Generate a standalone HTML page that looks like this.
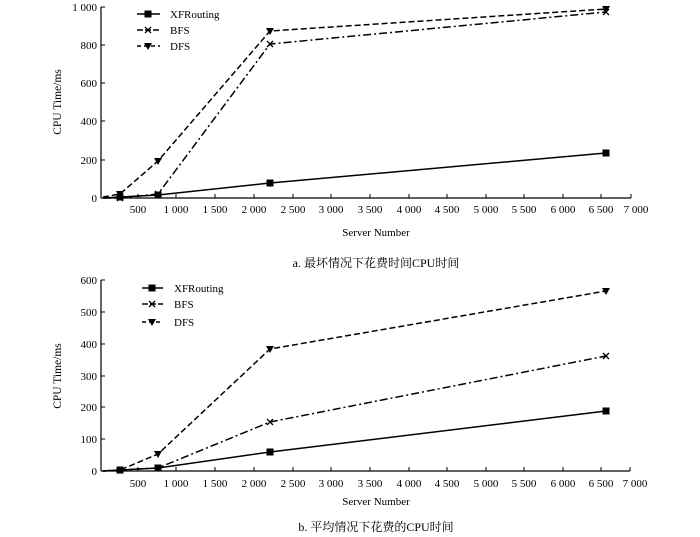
<!DOCTYPE html>
<html><head><meta charset="utf-8"><style>
body{margin:0;background:#fff;}
svg{display:block;font-family:"Liberation Serif","Noto Serif CJK SC",serif;}
</style></head><body>
<svg width="700" height="537" viewBox="0 0 700 537" xmlns="http://www.w3.org/2000/svg">
<defs>
<g id="sq"><rect x="-3.5" y="-3.5" width="7" height="7" fill="#000"/></g>
<g id="xx"><path d="M-3,-3L3,3M-3,3L3,-3" stroke="#000" stroke-width="1.3"/></g>
<g id="tr"><path d="M-4,-3L4,-3L0,4Z" fill="#000"/></g>
</defs>
<g font-size="11" fill="#000">
<!-- TOP CHART -->
<line x1="101" y1="7" x2="101" y2="198" stroke="#000" stroke-width="1.2"/>
<line x1="101" y1="198" x2="631" y2="198" stroke="#000" stroke-width="1.2"/>
<g stroke="#000" stroke-width="1">
<line x1="101" y1="7" x2="105" y2="7"/><line x1="101" y1="45" x2="105" y2="45"/><line x1="101" y1="83" x2="105" y2="83"/><line x1="101" y1="121" x2="105" y2="121"/><line x1="101" y1="160" x2="105" y2="160"/>
<line x1="138" y1="198" x2="138" y2="194"/><line x1="176" y1="198" x2="176" y2="194"/><line x1="215" y1="198" x2="215" y2="194"/><line x1="254" y1="198" x2="254" y2="194"/><line x1="293" y1="198" x2="293" y2="194"/><line x1="331" y1="198" x2="331" y2="194"/><line x1="370" y1="198" x2="370" y2="194"/><line x1="409" y1="198" x2="409" y2="194"/><line x1="447" y1="198" x2="447" y2="194"/><line x1="486" y1="198" x2="486" y2="194"/><line x1="524" y1="198" x2="524" y2="194"/><line x1="563" y1="198" x2="563" y2="194"/><line x1="601" y1="198" x2="601" y2="194"/><line x1="631" y1="198" x2="631" y2="194"/>
</g>
<g text-anchor="end">
<text x="97" y="11">1 000</text><text x="97" y="49">800</text><text x="97" y="87">600</text><text x="97" y="125">400</text><text x="97" y="164">200</text><text x="97" y="202">0</text>
</g>
<g text-anchor="middle">
<text x="138" y="213">500</text><text x="176" y="213">1 000</text><text x="215" y="213">1 500</text><text x="254" y="213">2 000</text><text x="293" y="213">2 500</text><text x="331" y="213">3 000</text><text x="370" y="213">3 500</text><text x="409" y="213">4 000</text><text x="447" y="213">4 500</text><text x="486" y="213">5 000</text><text x="524" y="213">5 500</text><text x="563" y="213">6 000</text><text x="601" y="213">6 500</text><text x="636" y="213">7 000</text>
<text x="376" y="236">Server Number</text>
<text x="376" y="267" font-size="12">a.  最坏情况下花费时间CPU时间</text>
<text transform="translate(61,102) rotate(-90)" font-size="11.5">CPU Time/ms</text>
</g>
<g fill="none" stroke="#000" stroke-width="1.5">
<polyline points="103,198 120,197 158,195 270,183 606,153"/>
<polyline points="103,198 120,198 158,194 270,44 606,12" stroke-dasharray="8,3,2,3"/>
<polyline points="103,197 120,194 158,161 270,31 606,9" stroke-dasharray="6,3"/>
<line x1="137" y1="14" x2="160" y2="14"/>
<line x1="137" y1="30" x2="160" y2="30" stroke-dasharray="6,2"/>
<line x1="137" y1="46" x2="160" y2="46" stroke-dasharray="4,3"/>
</g>
<use href="#sq" x="120" y="197"/><use href="#sq" x="158" y="195"/><use href="#sq" x="270" y="183"/><use href="#sq" x="606" y="153"/>
<use href="#xx" x="120" y="198"/><use href="#xx" x="158" y="194"/><use href="#xx" x="270" y="44"/><use href="#xx" x="606" y="12"/>
<use href="#tr" x="120" y="194"/><use href="#tr" x="158" y="161"/><use href="#tr" x="270" y="31"/><use href="#tr" x="606" y="9"/>
<use href="#sq" x="148" y="14"/><use href="#xx" x="148" y="30"/><use href="#tr" x="148" y="46"/>
<text x="170" y="18">XFRouting</text><text x="170" y="34">BFS</text><text x="170" y="50">DFS</text>

<!-- BOTTOM CHART -->
<line x1="101" y1="280" x2="101" y2="471" stroke="#000" stroke-width="1.2"/>
<line x1="101" y1="471" x2="630" y2="471" stroke="#000" stroke-width="1.2"/>
<g stroke="#000" stroke-width="1">
<line x1="101" y1="280" x2="105" y2="280"/><line x1="101" y1="312" x2="105" y2="312"/><line x1="101" y1="344" x2="105" y2="344"/><line x1="101" y1="376" x2="105" y2="376"/><line x1="101" y1="407" x2="105" y2="407"/><line x1="101" y1="439" x2="105" y2="439"/>
<line x1="138" y1="471" x2="138" y2="467"/><line x1="176" y1="471" x2="176" y2="467"/><line x1="215" y1="471" x2="215" y2="467"/><line x1="254" y1="471" x2="254" y2="467"/><line x1="293" y1="471" x2="293" y2="467"/><line x1="331" y1="471" x2="331" y2="467"/><line x1="370" y1="471" x2="370" y2="467"/><line x1="409" y1="471" x2="409" y2="467"/><line x1="447" y1="471" x2="447" y2="467"/><line x1="486" y1="471" x2="486" y2="467"/><line x1="524" y1="471" x2="524" y2="467"/><line x1="563" y1="471" x2="563" y2="467"/><line x1="601" y1="471" x2="601" y2="467"/><line x1="630" y1="471" x2="630" y2="467"/>
</g>
<g text-anchor="end">
<text x="97" y="284">600</text><text x="97" y="316">500</text><text x="97" y="348">400</text><text x="97" y="380">300</text><text x="97" y="411">200</text><text x="97" y="443">100</text><text x="97" y="475">0</text>
</g>
<g text-anchor="middle">
<text x="138" y="487">500</text><text x="176" y="487">1 000</text><text x="215" y="487">1 500</text><text x="254" y="487">2 000</text><text x="293" y="487">2 500</text><text x="331" y="487">3 000</text><text x="370" y="487">3 500</text><text x="409" y="487">4 000</text><text x="447" y="487">4 500</text><text x="486" y="487">5 000</text><text x="524" y="487">5 500</text><text x="563" y="487">6 000</text><text x="601" y="487">6 500</text><text x="635" y="487">7 000</text>
<text x="376" y="505">Server Number</text>
<text x="376" y="531" font-size="12">b.  平均情况下花费的CPU时间</text>
<text transform="translate(61,376) rotate(-90)" font-size="11.5">CPU Time/ms</text>
</g>
<g fill="none" stroke="#000" stroke-width="1.5">
<polyline points="103,471 120,470 158,468 270,452 606,411"/>
<polyline points="103,471 120,470 158,468 270,422 606,356" stroke-dasharray="8,3,2,3"/>
<polyline points="103,471 120,470 158,454 270,349 606,291" stroke-dasharray="6,3"/>
<line x1="142" y1="288" x2="163" y2="288"/>
<line x1="142" y1="304" x2="163" y2="304" stroke-dasharray="6,2"/>
<line x1="142" y1="322" x2="163" y2="322" stroke-dasharray="4,3"/>
</g>
<use href="#sq" x="120" y="470"/><use href="#sq" x="158" y="468"/><use href="#sq" x="270" y="452"/><use href="#sq" x="606" y="411"/>
<use href="#xx" x="270" y="422"/><use href="#xx" x="606" y="356"/>
<use href="#tr" x="158" y="454"/><use href="#tr" x="270" y="349"/><use href="#tr" x="606" y="291"/>
<use href="#sq" x="152" y="288"/><use href="#xx" x="152" y="304"/><use href="#tr" x="152" y="322"/>
<text x="174" y="292">XFRouting</text><text x="174" y="308">BFS</text><text x="174" y="326">DFS</text>
</g>
</svg>
</body></html>
